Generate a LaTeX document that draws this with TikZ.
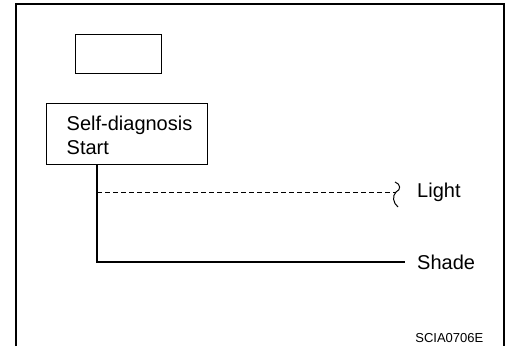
\documentclass[tikz,border=0pt]{standalone}
\usepackage{fontspec}
\setmainfont{Liberation Sans}

\begin{document}
\begin{tikzpicture}[x=1pt, y=-1pt,
        box/.style={draw, line width=1pt, inner sep=0pt},
        lbl/.style={font=\fontsize{20}{24}\selectfont, inner sep=0pt, anchor=west}]
        \useasboundingbox (0,0) rectangle (506,346);

        % Frame
        \draw[line width=2.2pt] (16,346) -- (16,4) -- (504,4) -- (504,346);

        % Boxes
        \node[box, minimum width=86pt, minimum height=39pt] (blank) at (118,53.5) {};
        \node[box, minimum width=161pt, minimum height=61pt] (start) at (126.5,133.5) {};
        \node[lbl, align=left] (starttext) at ([xshift=21pt, yshift=-2pt]start.west) {Self-diagnosis\\Start};

        % Labels
        \node[lbl] (light) at (417,192) {Light};
        \node[lbl] (shade) at (417,262) {Shade};
        \node[font=\fontsize{13}{15}\selectfont, inner sep=0pt, anchor=base east] (code) at (483.5,342) {SCIA0706E};

        % Branch points
        \coordinate (branch) at (97,192);
        \coordinate (bend) at (97,262);
        \coordinate (wave) at (396,192);

        % Lines
        \draw[line width=1.2pt] (start.south -| branch) -- (bend) -- ([xshift=-12pt]shade.west);
        \draw[line width=1pt, dash pattern=on 5pt off 3pt] (branch) -- (wave);
        \draw[line width=1pt] (395,182) .. controls (401,184) and (401,190) .. (wave)
            .. controls (392,196) and (393,203) .. (398,207);

\end{tikzpicture}
\end{document}
